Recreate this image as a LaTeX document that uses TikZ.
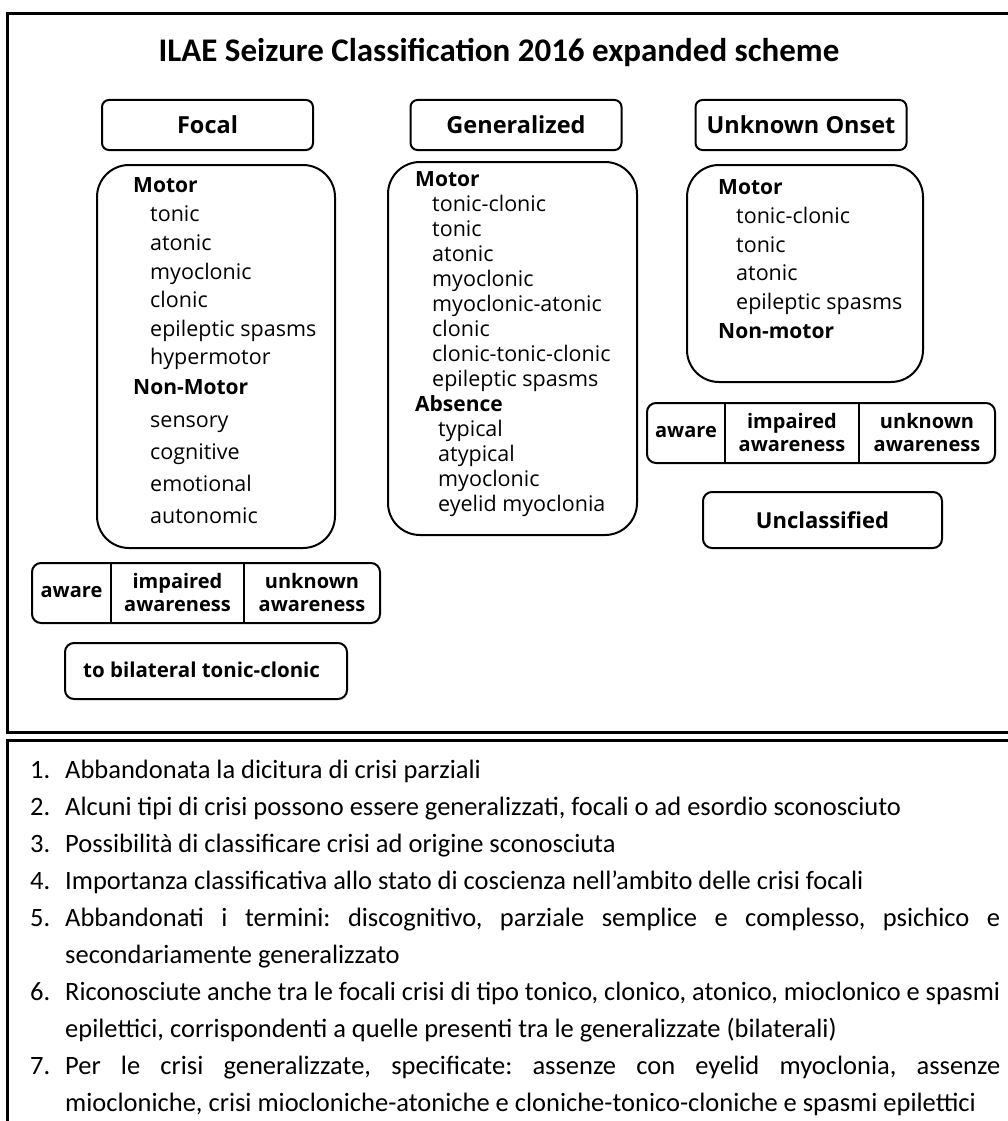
\documentclass[tikz,border=0pt]{standalone}
\usepackage{fontspec}
\usepackage{graphicx}
\setmainfont{Open Sans}
\newfontfamily\calib{Carlito}
\newsavebox\fitbox
\newcommand\fitline[1]{\sbox\fitbox{#1}\ifdim\wd\fitbox>935pt \resizebox{935pt}{\height}{\usebox\fitbox}\else\makebox[935pt][s]{#1}\fi}
\frenchspacing
\begin{document}
\frenchspacing
\begin{tikzpicture}[x=1pt,y=-1pt,
  frame/.style={line width=3pt},
  hdr/.style={draw, line width=2pt, rounded corners=7pt, minimum width=211pt, minimum height=50pt, inner sep=0pt, font=\fontsize{23.5}{26}\selectfont\bfseries},
  bigbox/.style={draw, line width=2pt, rounded corners=32pt, inner sep=0pt},
  smallbox/.style={draw, line width=2pt, rounded corners=9pt, inner sep=0pt},
  cat/.style={anchor=base west, inner sep=0pt, font=\fontsize{21}{24}\selectfont\bfseries},
  itm/.style={anchor=base west, inner sep=0pt, font=\fontsize{21.5}{24}\selectfont},
  cell/.style={align=center, inner sep=0pt, font=\fontsize{20}{23}\selectfont\bfseries},
  num/.style={anchor=base west, inner sep=0pt, font=\calib\fontsize{26.5}{30}\selectfont},
  txt/.style={anchor=base west, inner sep=0pt, font=\calib\fontsize{26.5}{30}\selectfont\frenchspacing}
]
\useasboundingbox (0,0) rectangle (1008,1121);
% frames
\draw[frame] (7,14) rectangle (1020,732);
\draw[frame] (7,740) rectangle (1020,1140);
% title
\node[inner sep=0pt, font=\calib\fontsize{33}{36}\selectfont\bfseries] (title) at (499,52) {ILAE Seizure Classification 2016 expanded scheme};
% headers
\node[hdr] (focal) at (207.5,125) {Focal};
\node[hdr] (gen) at (516,125) {Generalized};
\node[hdr] (unk) at (801,125) {Unknown Onset};
% list boxes
\node[bigbox, minimum width=238pt, minimum height=383pt] (flist) at (216,356.5) {};
\node[bigbox, minimum width=249pt, minimum height=373pt] (glist) at (512.5,348.5) {};
\node[bigbox, minimum width=236pt, minimum height=217pt] (ulist) at (805,273.5) {};
% focal list text
\node[cat] (fm) at (133,192) {Motor};
\node[itm] (f1) at (150,221) {tonic};
\node[itm] (f2) at (150,250) {atonic};
\node[itm] (f3) at (150,279) {myoclonic};
\node[itm] (f4) at (150,307) {clonic};
\node[itm] (f5) at (150,336) {epileptic spasms};
\node[itm] (f6) at (150,364) {hypermotor};
\node[cat] (fn) at (133,394) {Non-Motor};
\node[itm] (f7) at (150,427) {sensory};
\node[itm] (f8) at (150,459) {cognitive};
\node[itm] (f9) at (150,491) {emotional};
\node[itm] (f10) at (150,523) {autonomic};
% generalized list text
\node[cat] (gm) at (415,186) {Motor};
\node[itm] (g1) at (432,211) {tonic-clonic};
\node[itm] (g2) at (432,236) {tonic};
\node[itm] (g3) at (432,261) {atonic};
\node[itm] (g4) at (432,286) {myoclonic};
\node[itm] (g5) at (432,311) {myoclonic-atonic};
\node[itm] (g6) at (432,336) {clonic};
\node[itm] (g7) at (432,361) {clonic-tonic-clonic};
\node[itm] (g8) at (432,386) {epileptic spasms};
\node[cat] (ga) at (415,411) {Absence};
\node[itm] (g9) at (438,436) {typical};
\node[itm] (g10) at (438,461) {atypical};
\node[itm] (g11) at (438,486) {myoclonic};
\node[itm] (g12) at (438,511) {eyelid myoclonia};
% unknown list text
\node[cat] (um) at (718,194) {Motor};
\node[itm] (u1) at (736,223) {tonic-clonic};
\node[itm] (u2) at (736,252) {tonic};
\node[itm] (u3) at (736,280) {atonic};
\node[itm] (u4) at (736,309) {epileptic spasms};
\node[cat] (un) at (718,338) {Non-motor};
% focal awareness
\node[smallbox, minimum width=348pt, minimum height=60pt] (fa) at (206,593) {};
\coordinate (fd1) at (111,593);
\coordinate (fd2) at (244,593);
\draw[line width=2pt] (fd1 |- fa.north) -- (fd1 |- fa.south);
\draw[line width=2pt] (fd2 |- fa.north) -- (fd2 |- fa.south);
\node[cell] (fa1) at (71.5,592) {aware};
\node[cell] (fa2) at (177.5,592) {impaired\\awareness};
\node[cell] (fa3) at (312,592) {unknown\\awareness};
% to bilateral
\node[smallbox, minimum width=282pt, minimum height=56pt] (bil) at (206,671) {};
\node[anchor=west, inner sep=0pt, font=\fontsize{20.5}{23}\selectfont\bfseries] (bilt) at (83,670) {to bilateral tonic-clonic};
% unknown awareness
\node[smallbox, minimum width=348pt, minimum height=60pt] (ua) at (821,433) {};
\coordinate (ud1) at (725,433);
\coordinate (ud2) at (859,433);
\draw[line width=2pt] (ud1 |- ua.north) -- (ud1 |- ua.south);
\draw[line width=2pt] (ud2 |- ua.north) -- (ud2 |- ua.south);
\node[cell] (ua1) at (686,432) {aware};
\node[cell] (ua2) at (792,432) {impaired\\awareness};
\node[cell] (ua3) at (927,432) {unknown\\awareness};
% unclassified
\node[smallbox, minimum width=239pt, minimum height=56pt, font=\fontsize{22}{26}\selectfont\bfseries] (uncl) at (822.5,520) {Unclassified};
% bottom list
\node[num] (n1) at (30,778) {1.};
\node[txt] (t1) at (65,778) {Abbandonata la dicitura di crisi parziali};
\node[num] (n2) at (30,815) {2.};
\node[txt] (t2) at (65,815) {Alcuni tipi di crisi possono essere generalizzati, focali o ad esordio sconosciuto};
\node[num] (n3) at (30,852) {3.};
\node[txt] (t3) at (65,852) {Possibilità di classificare crisi ad origine sconosciuta};
\node[num] (n4) at (30,889) {4.};
\node[txt] (t4) at (65,889) {Importanza classificativa allo stato di coscienza nell’ambito delle crisi focali};
\node[num] (n5) at (30,926) {5.};
\node[txt] (t5) at (65,926) {\fitline{Abbandonati i termini: discognitivo, parziale semplice e complesso, psichico e}};
\node[txt] (t5b) at (65,963) {secondariamente generalizzato};
\node[num] (n6) at (30,1000) {6.};
\node[txt] (t6) at (65,1000) {\fitline{Riconosciute anche tra le focali crisi di tipo tonico, clonico, atonico, mioclonico e spasmi}};
\node[txt] (t6b) at (65,1037) {epilettici, corrispondenti a quelle presenti tra le generalizzate (bilaterali)};
\node[num] (n7) at (30,1074) {7.};
\node[txt] (t7) at (65,1074) {\fitline{Per le crisi generalizzate, specificate: assenze con eyelid myoclonia, assenze}};
\node[txt] (t7b) at (65,1111) {miocloniche, crisi miocloniche-atoniche e cloniche-tonico-cloniche e spasmi epilettici};
\end{tikzpicture}
\end{document}
